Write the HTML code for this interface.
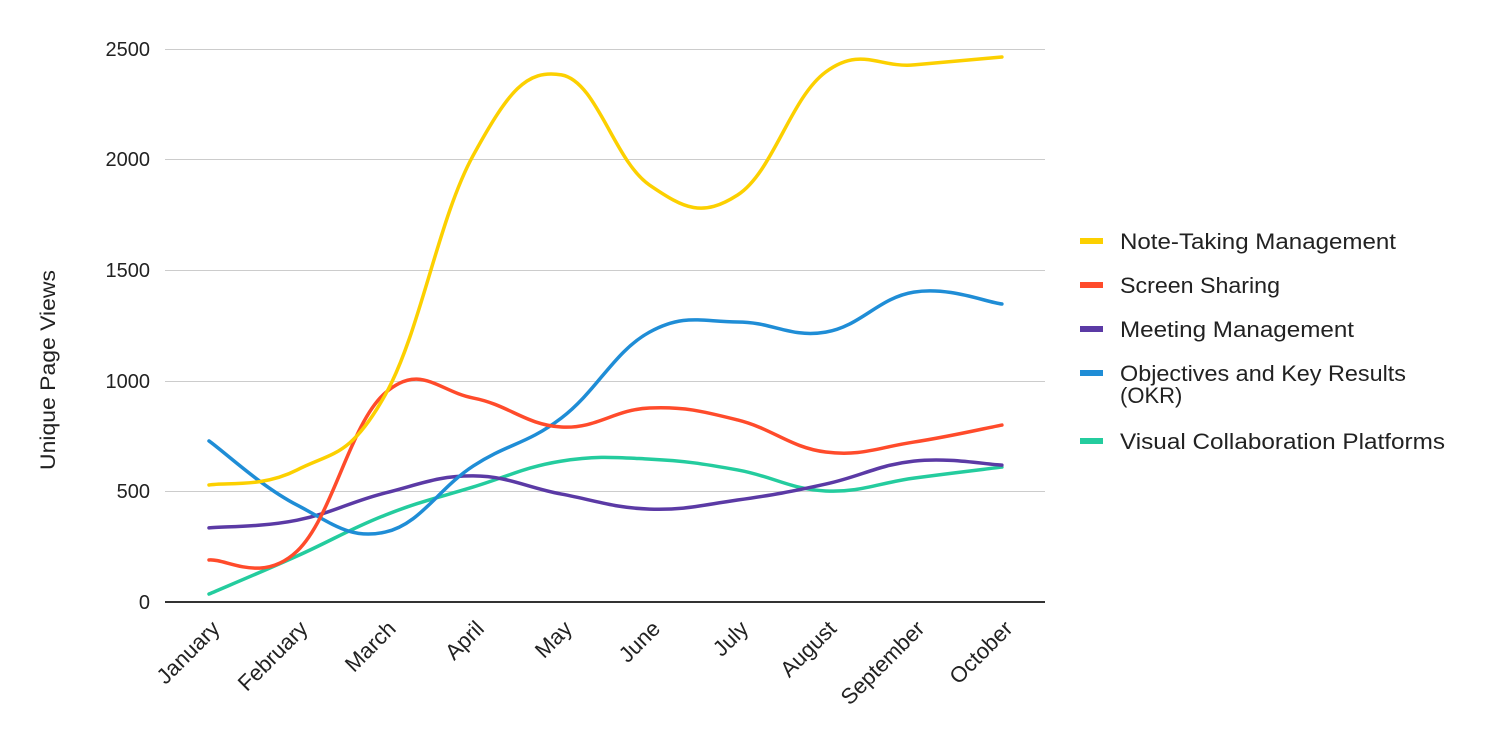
<!DOCTYPE html>
<html><head><meta charset="utf-8"><style>
html,body{margin:0;padding:0;background:#fff;}
svg{display:block;font-family:"Liberation Sans",Arial,sans-serif;}
</style></head><body>
<svg id="c" width="1502" height="742" viewBox="0 0 1502 742" xmlns="http://www.w3.org/2000/svg">
<g stroke="#cccccc" stroke-width="1">
<line x1="165" x2="1045" y1="49.5" y2="49.5"/>
<line x1="165" x2="1045" y1="159.5" y2="159.5"/>
<line x1="165" x2="1045" y1="270.5" y2="270.5"/>
<line x1="165" x2="1045" y1="381.5" y2="381.5"/>
<line x1="165" x2="1045" y1="491.5" y2="491.5"/>
</g>
<g font-size="20" fill="#222" text-anchor="end">
<text x="150" y="56">2500</text>
<text x="150" y="166">2000</text>
<text x="150" y="277">1500</text>
<text x="150" y="388">1000</text>
<text x="150" y="498">500</text>
<text x="150" y="609">0</text>
</g>
<text transform="translate(55,370) rotate(-90)" font-size="21" fill="#222" text-anchor="middle" textLength="200" lengthAdjust="spacingAndGlyphs">Unique Page Views</text>
<g id="series" fill="none" stroke-width="3.5" stroke-linecap="round"></g>
<line x1="165" x2="1045" y1="602" y2="602" stroke="#333" stroke-width="2"/>
<g id="xl" font-size="22" fill="#222" text-anchor="end"></g>
<g font-size="22" fill="#222">
<rect x="1080" y="238" width="23" height="6" fill="#fcd000"/><text x="1120" y="249" textLength="276" lengthAdjust="spacingAndGlyphs">Note-Taking Management</text>
<rect x="1080" y="282" width="23" height="6" fill="#ff4b2b"/><text x="1120" y="293" textLength="160" lengthAdjust="spacingAndGlyphs">Screen Sharing</text>
<rect x="1080" y="326" width="23" height="6" fill="#5b3aa5"/><text x="1120" y="337" textLength="234" lengthAdjust="spacingAndGlyphs">Meeting Management</text>
<rect x="1080" y="370" width="23" height="6" fill="#1f8dd6"/><text x="1120" y="381" textLength="286" lengthAdjust="spacingAndGlyphs">Objectives and Key Results</text><text x="1120" y="403">(OKR)</text>
<rect x="1080" y="438" width="23" height="6" fill="#24cc9e"/><text x="1120" y="449" textLength="325" lengthAdjust="spacingAndGlyphs">Visual Collaboration Platforms</text>
</g>
</svg>
<script>
var ns="http://www.w3.org/2000/svg";
var months=["January","February","March","April","May","June","July","August","September","October"];
function X(i){return 209+i*88.1;}
function Y(v){return 602-v*0.2212;}
var xl=document.getElementById("xl");
months.forEach(function(m,i){var t=document.createElementNS(ns,"text");t.setAttribute("transform","translate("+(X(i)+12)+",630) rotate(-45)");t.textContent=m;xl.appendChild(t);});
var data=[
["#24cc9e",[36,208,393,520,637,646,597,502,560,610]],
["#5b3aa5",[335,370,493,570,488,420,461,533,637,619]],
["#1f8dd6",[728,438,316,615,832,1220,1266,1220,1401,1347]],
["#ff4b2b",[190,230,945,922,791,877,823,678,723,800]],
["#fcd000",[529,597,936,2020,2383,1885,1840,2396,2428,2464]]
];
var g=document.getElementById("series");
data.forEach(function(s){
 var p=s[1].map(function(v,i){return [X(i),Y(v)];});
 var d="M"+p[0][0]+","+p[0][1];
 for(var i=0;i<p.length-1;i++){
  var p0=p[Math.max(0,i-1)],p1=p[i],p2=p[i+1],p3=p[Math.min(p.length-1,i+2)];
  var k=0.2;
  var c1=[p1[0]+(p2[0]-p0[0])*k,p1[1]+(p2[1]-p0[1])*k];
  var c2=[p2[0]-(p3[0]-p1[0])*k,p2[1]-(p3[1]-p1[1])*k];
  d+=" C"+c1[0]+","+c1[1]+" "+c2[0]+","+c2[1]+" "+p2[0]+","+p2[1];
 }
 var path=document.createElementNS(ns,"path");path.setAttribute("d",d);path.setAttribute("stroke",s[0]);g.appendChild(path);
});
</script>
</body></html>
